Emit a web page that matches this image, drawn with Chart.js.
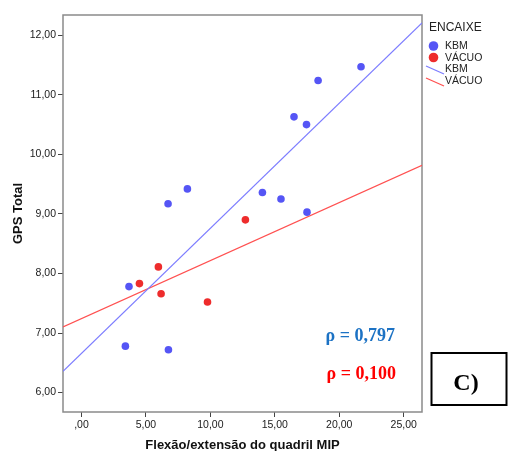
<!DOCTYPE html>
<html>
<head>
<meta charset="utf-8">
<script src="https://cdn.jsdelivr.net/npm/chart.js@4/dist/chart.umd.min.js"></script>
<style>
  html, body { margin: 0; padding: 0; background: #ffffff; }
  #wrap { width: 510px; height: 451px; position: relative; }
</style>
</head>
<body>
<div id="wrap"><canvas id="c" width="510" height="451"></canvas></div>
<script>
// Flexão/extensão do quadril (x) vs GPS Total (y), by socket type
const kbmX = [3.69, 3.41, 6.75, 6.72, 8.22, 14.04, 15.48, 17.50, 16.49, 17.46, 18.36, 21.69];
const kbmY = [7.78, 6.78, 6.72, 9.17, 9.42, 9.36, 9.25, 9.03, 10.63, 10.50, 11.24, 11.47];
const vacuoX = [4.50, 5.97, 6.18, 9.78, 12.72];
const vacuoY = [7.83, 8.11, 7.66, 7.52, 8.90];

const groupNames = ['KBM', 'VÁCUO'];
const legendTitle = 'ENCAIXE';
const xTickValues = [0, 5, 10, 15, 20, 25];
const yTickValues = [6, 7, 8, 9, 10, 11, 12];
const rhoLabels = ['ρ = 0,797', 'ρ = 0,100'];
const panelLabel = 'C)';

const X_MIN = -1.43, X_MAX = 26.42;
const Y_MIN = 5.674, Y_MAX = 12.34;

const BLUE = '#5555f5', RED = '#ee2c2c';
const BLUE_LINE = '#7c7cff', RED_LINE = '#ff5050';

function fmt(v) {
  const s = v.toFixed(2).replace('.', ',');
  return s.startsWith('0,') ? s.slice(1) : s;
}

function toPoints(xs, ys) { return xs.map((x, i) => ({ x: x, y: ys[i] })); }

// least-squares fit line spanning the full x range
function fitLine(xs, ys) {
  const n = xs.length;
  const mx = xs.reduce((a, b) => a + b, 0) / n;
  const my = ys.reduce((a, b) => a + b, 0) / n;
  let sxy = 0, sxx = 0;
  for (let i = 0; i < n; i++) { sxy += (xs[i] - mx) * (ys[i] - my); sxx += (xs[i] - mx) ** 2; }
  const b = sxy / sxx, a = my - b * mx;
  return [{ x: X_MIN, y: a + b * X_MIN }, { x: X_MAX, y: a + b * X_MAX }];
}

const extras = {
  id: 'extras',
  beforeDatasetsDraw(chart) {
    const { ctx, chartArea: ca } = chart;
    ctx.save();
    ctx.strokeStyle = '#8a8a8a';
    ctx.lineWidth = 1.5;
    ctx.strokeRect(ca.left, ca.top, ca.right - ca.left, ca.bottom - ca.top);
    ctx.restore();
  },
  afterDraw(chart) {
    const ctx = chart.ctx;
    ctx.save();
    // legend
    ctx.fillStyle = '#222';
    ctx.textBaseline = 'middle';
    ctx.textAlign = 'left';
    ctx.font = '12px "Liberation Sans", Arial, sans-serif';
    ctx.fillText(legendTitle, 429, 28);
    ctx.font = '10.5px "Liberation Sans", Arial, sans-serif';
    [[BLUE, 46], [RED, 57.5]].forEach((d, i) => {
      ctx.beginPath();
      ctx.fillStyle = d[0];
      ctx.arc(433.5, d[1], 4.8, 0, Math.PI * 2);
      ctx.fill();
      ctx.fillStyle = '#222';
      ctx.fillText(groupNames[i], 445, d[1] + 0.5);
    });
    [[BLUE_LINE, 66, 69.5], [RED_LINE, 78, 81.5]].forEach((d, i) => {
      ctx.beginPath();
      ctx.strokeStyle = d[0];
      ctx.lineWidth = 1.2;
      ctx.moveTo(426, d[1]);
      ctx.lineTo(444, d[1] + 8);
      ctx.stroke();
      ctx.fillStyle = '#222';
      ctx.fillText(groupNames[i], 445, d[2]);
    });
    // correlation labels
    ctx.font = 'bold 18px "Liberation Serif", "Times New Roman", serif';
    ctx.textAlign = 'right';
    ctx.fillStyle = '#1c72c4';
    ctx.fillText(rhoLabels[0], 395, 336);
    ctx.fillStyle = '#ff0000';
    ctx.fillText(rhoLabels[1], 396, 374);
    // panel label box
    ctx.strokeStyle = '#000';
    ctx.lineWidth = 2;
    ctx.strokeRect(431.5, 353, 75, 52);
    ctx.fillStyle = '#000';
    ctx.textAlign = 'center';
    ctx.font = 'bold 24px "Liberation Serif", "Times New Roman", serif';
    ctx.fillText(panelLabel, 466, 384);
    ctx.restore();
  }
};

new Chart(document.getElementById('c'), {
  type: 'scatter',
  data: {
    datasets: [
      { label: groupNames[0], data: toPoints(kbmX, kbmY), backgroundColor: BLUE, borderColor: BLUE,
        pointRadius: 3.8, pointHoverRadius: 3.8, borderWidth: 0, order: 1 },
      { label: groupNames[1], data: toPoints(vacuoX, vacuoY), backgroundColor: RED, borderColor: RED,
        pointRadius: 3.8, pointHoverRadius: 3.8, borderWidth: 0, order: 1 },
      { label: groupNames[0] + ' fit', type: 'line', data: fitLine(kbmX, kbmY), borderColor: BLUE_LINE,
        borderWidth: 1.2, pointRadius: 0, fill: false, order: 2 },
      { label: groupNames[1] + ' fit', type: 'line', data: fitLine(vacuoX, vacuoY), borderColor: RED_LINE,
        borderWidth: 1.2, pointRadius: 0, fill: false, order: 2 }
    ]
  },
  options: {
    responsive: false,
    animation: false,
    events: [],
    layout: { padding: { left: 0, top: 15, right: 88, bottom: 0 } },
    plugins: { legend: { display: false }, tooltip: { enabled: false } },
    scales: {
      x: {
        type: 'linear', min: X_MIN, max: X_MAX,
        afterBuildTicks: s => { s.ticks = xTickValues.map(v => ({ value: v })); },
        afterFit: s => { s.height = 39; },
        grid: { drawOnChartArea: false, drawTicks: true, tickLength: 5, color: '#444', tickWidth: 1 },
        border: { display: false },
        ticks: { callback: v => fmt(v), color: '#1a1a1a', padding: 2, maxRotation: 0,
                 font: { family: '"Liberation Sans", Arial, sans-serif', size: 10.5 } },
        title: { display: true, text: 'Flexão/extensão do quadril MIP', color: '#111',
                 padding: { top: 0, bottom: 0 },
                 font: { family: '"Liberation Sans", Arial, sans-serif', size: 13, weight: 'bold', lineHeight: 0.8 } }
      },
      y: {
        type: 'linear', min: Y_MIN, max: Y_MAX,
        afterBuildTicks: s => { s.ticks = yTickValues.map(v => ({ value: v })); },
        afterFit: s => { s.width = 63; },
        grid: { drawOnChartArea: false, drawTicks: true, tickLength: 5, color: '#444', tickWidth: 1 },
        border: { display: false },
        ticks: { callback: v => fmt(v), color: '#1a1a1a', padding: 2,
                 font: { family: '"Liberation Sans", Arial, sans-serif', size: 10.5 } },
        title: { display: true, text: 'GPS Total', color: '#111',
                 padding: { top: 11, bottom: 0 },
                 font: { family: '"Liberation Sans", Arial, sans-serif', size: 13, weight: 'bold', lineHeight: 1.2 } }
      }
    }
  },
  plugins: [extras]
});
</script>
</body>
</html>
